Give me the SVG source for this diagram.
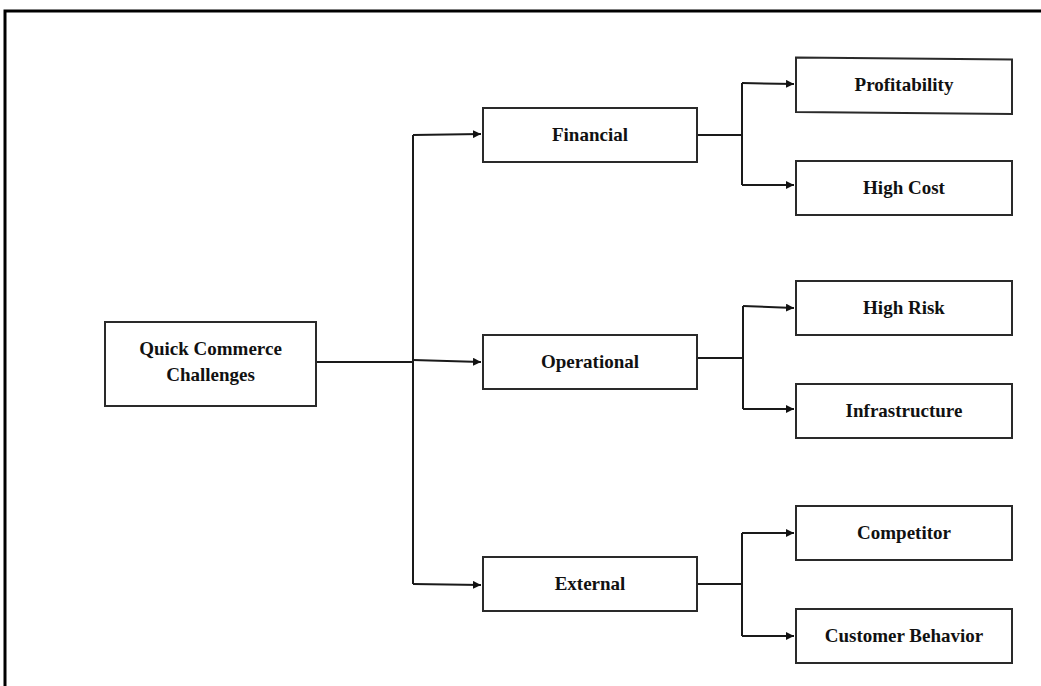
<svg xmlns="http://www.w3.org/2000/svg" width="1041" height="686" viewBox="0 0 1041 686">
  <defs>
    <marker id="arr" viewBox="0 0 10 10" refX="10" refY="5" markerWidth="4" markerHeight="4" markerUnits="strokeWidth" orient="auto">
      <path d="M0,0 L10,5 L0,10 z" fill="#111"/>
    </marker>
    <style>
      .box { fill: #fff; stroke: #2a2a2a; stroke-width: 2; }
      .lbl { font-family: "Liberation Serif", "Times New Roman", serif; font-weight: bold; font-size: 19px; fill: #111; text-anchor: middle; }
      .con { fill: none; stroke: #1a1a1a; stroke-width: 2; }
      .frame { fill: none; stroke: #000; stroke-width: 3; }
    </style>
  </defs>
  <rect width="1041" height="686" fill="#fff"/>
  <path class="frame" d="M5,690 L5,11 L1045,11"/>

  <g id="connectors">
    <path class="con" d="M316,362 L413,362"/>
    <path class="con" d="M413,135 L413,584"/>
    <path class="con" d="M413,135 L481,134" marker-end="url(#arr)"/>
    <path class="con" d="M413,360 L481,362" marker-end="url(#arr)"/>
    <path class="con" d="M413,584 L481,585" marker-end="url(#arr)"/>

    <path class="con" d="M697,135 L742,135"/>
    <path class="con" d="M742,83 L742,185"/>
    <path class="con" d="M742,83 L794,84" marker-end="url(#arr)"/>
    <path class="con" d="M742,185 L794,185" marker-end="url(#arr)"/>

    <path class="con" d="M697,358 L743,358"/>
    <path class="con" d="M743,306 L743,409"/>
    <path class="con" d="M743,306 L794,308" marker-end="url(#arr)"/>
    <path class="con" d="M743,409 L794,409" marker-end="url(#arr)"/>

    <path class="con" d="M697,584 L742,584"/>
    <path class="con" d="M742,533 L742,636"/>
    <path class="con" d="M742,533 L794,533" marker-end="url(#arr)"/>
    <path class="con" d="M742,636 L794,636" marker-end="url(#arr)"/>
  </g>

  <g id="node-root">
    <rect class="box" x="105" y="322" width="211" height="84"/>
    <text class="lbl" x="210.5" y="355">Quick Commerce</text>
    <text class="lbl" x="210.5" y="381">Challenges</text>
  </g>

  <g id="node-financial">
    <rect class="box" x="483" y="108" width="214" height="54"/>
    <text class="lbl" x="590" y="141">Financial</text>
  </g>
  <g id="node-operational">
    <rect class="box" x="483" y="335" width="214" height="54"/>
    <text class="lbl" x="590" y="368">Operational</text>
  </g>
  <g id="node-external">
    <rect class="box" x="483" y="557" width="214" height="54"/>
    <text class="lbl" x="590" y="590">External</text>
  </g>

  <g id="node-profitability">
    <path class="box" d="M796,57.5 L1012,59.5 L1012,114 L796,112 Z"/>
    <text class="lbl" x="904" y="91">Profitability</text>
  </g>
  <g id="node-highcost">
    <rect class="box" x="796" y="161" width="216" height="54"/>
    <text class="lbl" x="904" y="194">High Cost</text>
  </g>
  <g id="node-highrisk">
    <rect class="box" x="796" y="281" width="216" height="54"/>
    <text class="lbl" x="904" y="314">High Risk</text>
  </g>
  <g id="node-infrastructure">
    <rect class="box" x="796" y="384" width="216" height="54"/>
    <text class="lbl" x="904" y="417">Infrastructure</text>
  </g>
  <g id="node-competitor">
    <rect class="box" x="796" y="506" width="216" height="54"/>
    <text class="lbl" x="904" y="539">Competitor</text>
  </g>
  <g id="node-customer">
    <rect class="box" x="796" y="609" width="216" height="54"/>
    <text class="lbl" x="904" y="642">Customer Behavior</text>
  </g>
</svg>
